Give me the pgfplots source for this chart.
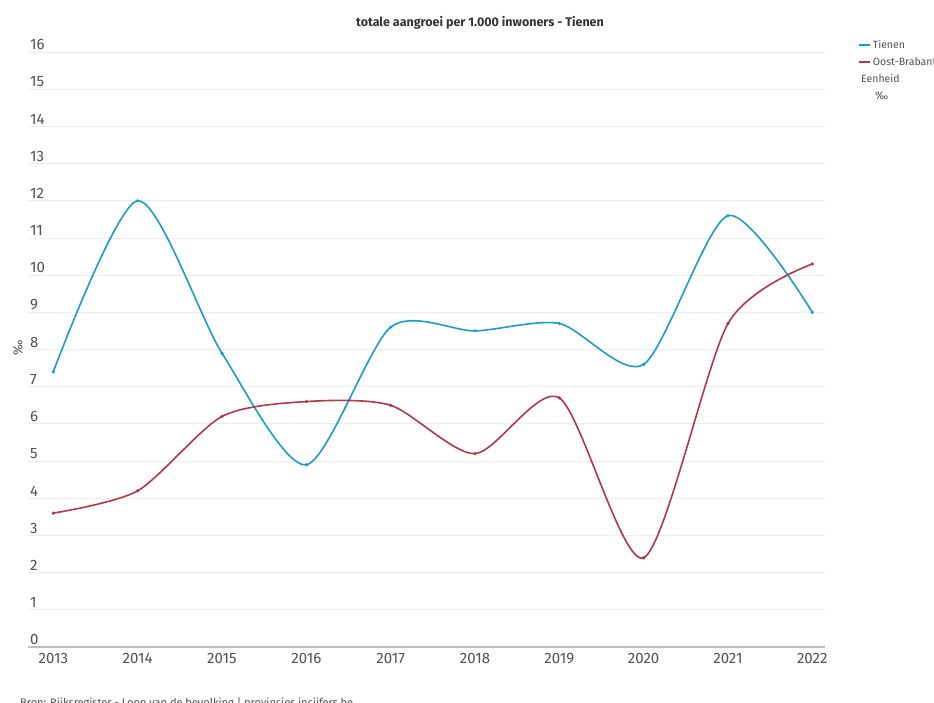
\documentclass[border=0pt]{standalone}
\usepackage{fontspec}
\setmainfont{Fira Sans}
\usepackage{pgfplots}
\pgfplotsset{compat=1.18}
\definecolor{tienen}{RGB}{24,158,198}
\definecolor{oostbr}{RGB}{178,56,72}
\definecolor{ticktxt}{RGB}{80,80,80}
\definecolor{gridc}{RGB}{236,236,236}

\begin{document}
\begin{tikzpicture}[x=1pt,y=1pt]
% canvas 934 x 702 px, 1px = 1pt, axis lower-left at pixel (28,647)
\useasboundingbox (-28,-55) rectangle (906,647);
\begin{axis}[
    scale only axis,
    width=797pt, height=595pt,
    xmin=2012.70, xmax=2022.15,
    ymin=0, ymax=16,
    xtick={2013,...,2022},
    ytick={0,...,16},
    xticklabel style={/pgf/number format/1000 sep=, font=\fontsize{15}{15}\selectfont, text=ticktxt, yshift=-3pt},
    yticklabel style={anchor=south west, inner sep=2pt, font=\fontsize{15}{15}\selectfont, text=ticktxt, yshift=0pt},
    /pgf/number format/assume math mode=true,
    major tick length=0pt,
    ymajorgrids, grid style={gridc, line width=0.8pt},
    axis line style={draw=none},
    clip=false,
    every axis plot/.append style={line width=1.6pt, smooth, tension=0.45},
    legend style={at={(rel axis cs:1.041,1.024)}, anchor=north west, draw=none, fill=none,
        font=\fontsize{10.5}{10.5}\selectfont, text=ticktxt, row sep=4pt, inner sep=0pt},
    legend cell align=left,
    legend image code/.code={\draw[line width=2pt,#1] (0pt,0pt) -- (11pt,0pt);},
]
\draw[color=gray!50, line width=1.2pt] (axis cs:2012.70,0) -- (axis cs:2022.15,0);
\addplot[color=tienen, mark=*, mark size=0.7pt, mark options={fill=white, draw=none}] coordinates {
(2013,7.4)(2014,12.0)(2015,7.9)(2016,4.9)(2017,8.6)(2018,8.5)(2019,8.7)(2020,7.6)(2021,11.6)(2022,9.0)
};
\addlegendentry{Tienen}
\addplot[color=oostbr, mark=*, mark size=0.7pt, mark options={fill=white, draw=none}] coordinates {
(2013,3.6)(2014,4.2)(2015,6.2)(2016,6.6)(2017,6.5)(2018,5.2)(2019,6.7)(2020,2.4)(2021,8.7)(2022,10.3)
};
\addlegendentry{Oost-Brabant}
\end{axis}
\node[font=\fontsize{12.5}{13}\selectfont\bfseries, text=black!80] at (452,624) {totale aangroei per 1.000 inwoners - Tienen};
\node[anchor=west, font=\fontsize{10.5}{11}\selectfont, text=ticktxt, inner sep=0pt] at (833,569) {Eenheid};
\node[anchor=west, font=\fontsize{11}{11}\selectfont, text=ticktxt, inner sep=0pt] at (847,551) {‰};
\node[rotate=90, font=\fontsize{13}{13}\selectfont, text=ticktxt] at (-10,299) {‰};
\node[anchor=west, font=\fontsize{11}{11}\selectfont, text=ticktxt, inner sep=0pt] at (-8,-56) {Bron: Rijksregister - Loop van de bevolking | provincies.incijfers.be};
\end{tikzpicture}
\end{document}
